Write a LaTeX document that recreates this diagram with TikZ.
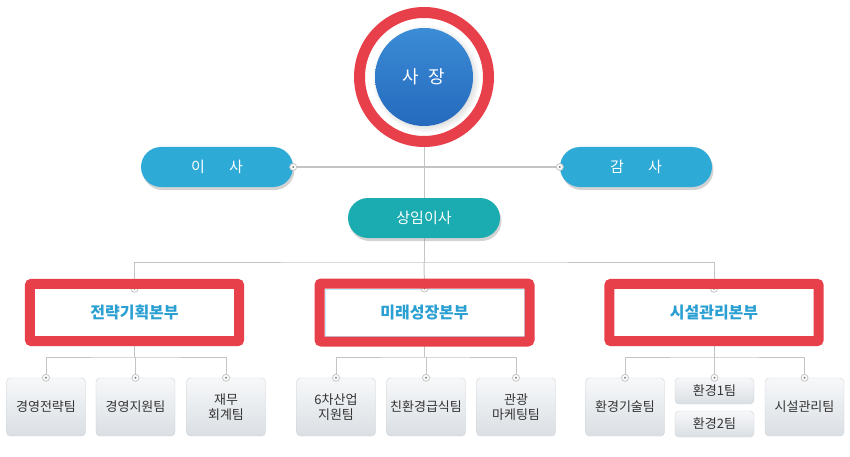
\documentclass[tikz,border=0pt]{standalone}
\usepackage{fontspec}
\setmainfont{Noto Sans CJK KR}
\usetikzlibrary{shadows, calc, backgrounds}

\definecolor{linegray}{HTML}{C4C4C4}
\definecolor{frame}{HTML}{E8404A}
\definecolor{prestop}{HTML}{3B8CD6}
\definecolor{presbottom}{HTML}{2569BD}
\definecolor{pillblue}{HTML}{2DAAD6}
\definecolor{pillteal}{HTML}{1AACB0}
\definecolor{divtext}{HTML}{2A9FD2}
\definecolor{teamtop}{HTML}{F7F8FA}
\definecolor{teambottom}{HTML}{DADFE3}
\definecolor{teamborder}{HTML}{CDD2D6}
\definecolor{teamtext}{HTML}{333333}

\begin{document}
\begin{tikzpicture}[x = 1pt, y = -1pt,
	link/.style = {draw = linegray, line width = 1pt},
	ring/.style = {circle, draw = frame, line width = 11pt, fill = white, minimum size = 129pt, inner sep = 0},
	president/.style = {circle, minimum size = 98pt, inner sep = 0, top color = prestop, bottom color = presbottom,
		text = white, font = \fontsize{18}{20}\selectfont,
		circular drop shadow = {shadow scale = 1.1, opacity = 0.25}},
	pill/.style = {rectangle, rounded corners = 20pt, minimum width = 152pt, minimum height = 40pt, inner sep = 0,
		text = white, font = \fontsize{15}{18}\selectfont,
		drop shadow = {shadow xshift = 1.5pt, shadow yshift = -3pt, opacity = 0.35}},
	division/.style = {rectangle, fill = white, minimum width = 199pt, minimum height = 47pt, inner sep = 0,
		text = divtext, font = \fontsize{16}{18}\selectfont\bfseries},
	redframe/.style = {draw = frame, line width = 10pt, rounded corners = 2pt},
	team/.style = {rectangle, rounded corners = 4pt, minimum width = 79pt, minimum height = 58pt, inner sep = 0,
		draw = teamborder, top color = teamtop, bottom color = teambottom, align = center,
		text = teamtext, font = \fontsize{13}{15}\selectfont},
	half/.style = {team, minimum height = 26pt},
	dot/.style = {circle, draw = linegray, fill = white, minimum size = 7pt, inner sep = 0, line width = 0.8pt,
		path picture = {\fill [gray] (path picture bounding box.center) circle (1.1pt);}}]

	\useasboundingbox (0, 0) rectangle (850, 457);

	% President

	\node [ring] (ring) at (424, 77) {};
	\node [president] (pres) at (424, 77) {사\hspace{9pt}장};

	% Board, audit, executive director

	\node [pill, fill = pillblue] (board) at (217, 167) {이\hspace{24pt}사};
	\node [pill, fill = pillblue] (audit) at (636, 167) {감\hspace{24pt}사};
	\node [pill, fill = pillteal] (exec) at (424, 218) {상임이사};
	\node [dot] (boarddot) at (board.east) {};
	\node [dot] (auditdot) at (audit.west) {};

	% Divisions

	\node [division] (plan) at (134.5, 312.5) {전략기획본부};
	\node [division, draw = cyan!25, line width = 1pt] (growth) at (424.5, 312.5) {미래성장본부};
	\node [division] (facility) at (714, 312.5) {시설관리본부};
	\foreach \d in {plan, growth, facility}
	{
		\node [dot] at (\d.north) {};
		\draw [redframe] ($(\d.north west) + (-5, -5)$) rectangle ($(\d.south east) + (5, 5)$);
	}

	% Teams

	\node [team] (strategy) at (46, 407) {경영전략팀};
	\node [team] (support) at (135.5, 407) {경영지원팀};
	\node [team] (finance) at (226, 407) {재무\\회계팀};

	\node [team] (sixth) at (336, 407) {6차산업\\지원팀};
	\node [team] (food) at (426, 407) {친환경급식팀};
	\node [team] (tour) at (516, 407) {관광\\마케팅팀};

	\node [team] (envtech) at (625, 407) {환경기술팀};
	\node [half] (env1) at (714.5, 391) {환경1팀};
	\node [half] (env2) at (714.5, 424) {환경2팀};
	\node [team] (manage) at (804.5, 407) {시설관리팀};

	\foreach \t in {strategy, support, finance, sixth, food, tour, envtech, env1, manage}
		\node [dot] (\t dot) at (\t.north) {};

	% Connectors

	\coordinate (hub) at (424, 262);
	\coordinate (planbus) at (134.5, 357);
	\coordinate (growthbus) at (424.5, 357);
	\coordinate (facilitybus) at (714, 357);

	\begin{scope}[on background layer]
		\draw [link] (ring.south) -- (hub);
		\draw [link] (boarddot) -- (auditdot);
		\draw [link] (plan.north) |- (hub) -| (facility.north);
		\draw [link] (hub) -- (growth.north);
		\draw [link] (plan.south) -- (planbus);
		\draw [link] (strategydot) |- (planbus) -| (financedot);
		\draw [link] (supportdot) -- (supportdot |- planbus);
		\draw [link] (growth.south) -- (growthbus);
		\draw [link] (sixthdot) |- (growthbus) -| (tourdot);
		\draw [link] (fooddot) -- (fooddot |- growthbus);
		\draw [link] (facility.south) -- (facilitybus);
		\draw [link] (envtechdot) |- (facilitybus) -| (managedot);
		\draw [link] (env1dot) -- (env1dot |- facilitybus);
	\end{scope}

\end{tikzpicture}
\end{document}
